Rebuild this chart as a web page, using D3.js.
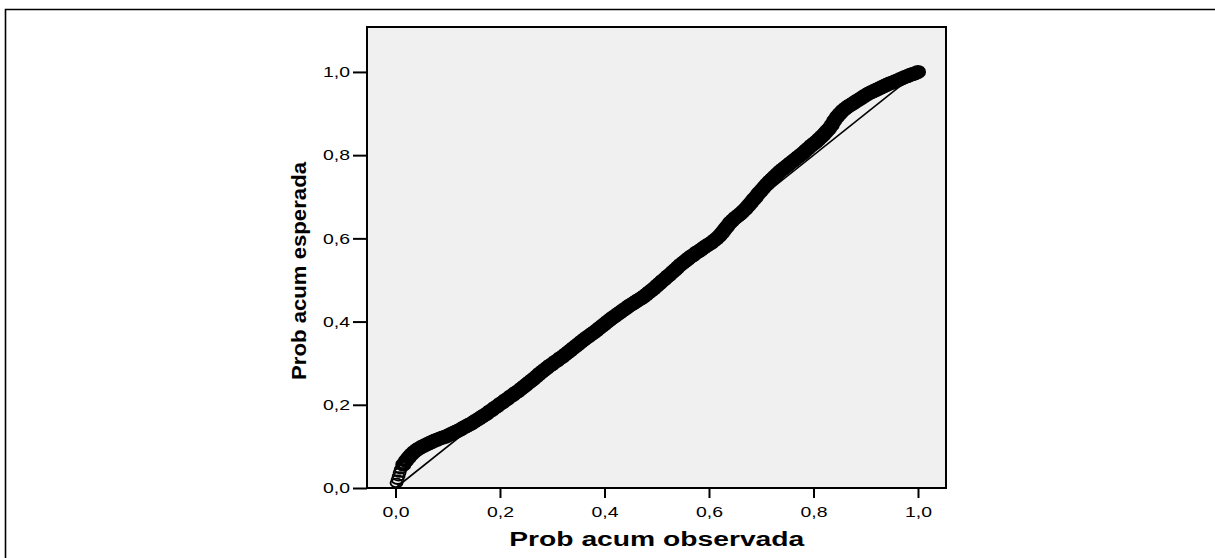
<!DOCTYPE html>
<html>
<head>
<meta charset="utf-8">
<script src="https://cdn.jsdelivr.net/npm/d3@7"></script>
<style>
	body { margin: 0; background: #fff; }
	text { font-family: Arial, "Liberation Sans", sans-serif; }
</style>
</head>
<body>
<div id="chart"></div>
<script>
const observed = [
	0.002, 0.004, 0.006, 0.008, 0.010, 0.015, 0.020, 0.025, 0.030, 0.035, 0.040, 0.045, 0.050, 0.055, 0.060, 0.065, 0.070, 0.075, 0.080, 0.085,
	0.090, 0.095, 0.100, 0.105, 0.110, 0.115, 0.120, 0.125, 0.130, 0.135, 0.140, 0.145, 0.150, 0.155, 0.160, 0.165, 0.170, 0.175, 0.180, 0.185,
	0.190, 0.195, 0.200, 0.205, 0.210, 0.215, 0.220, 0.225, 0.230, 0.235, 0.240, 0.245, 0.250, 0.255, 0.260, 0.265, 0.270, 0.275, 0.280, 0.285,
	0.290, 0.295, 0.300, 0.305, 0.310, 0.315, 0.320, 0.325, 0.330, 0.335, 0.340, 0.345, 0.350, 0.355, 0.360, 0.365, 0.370, 0.375, 0.380, 0.385,
	0.390, 0.395, 0.400, 0.405, 0.410, 0.415, 0.420, 0.425, 0.430, 0.435, 0.440, 0.445, 0.450, 0.455, 0.460, 0.465, 0.470, 0.475, 0.480, 0.485,
	0.490, 0.495, 0.500, 0.505, 0.510, 0.515, 0.520, 0.525, 0.530, 0.535, 0.540, 0.545, 0.550, 0.555, 0.560, 0.565, 0.570, 0.575, 0.580, 0.585,
	0.590, 0.595, 0.600, 0.605, 0.610, 0.615, 0.620, 0.625, 0.630, 0.635, 0.640, 0.645, 0.650, 0.655, 0.660, 0.665, 0.670, 0.675, 0.680, 0.685,
	0.690, 0.695, 0.700, 0.705, 0.710, 0.715, 0.720, 0.725, 0.730, 0.735, 0.740, 0.745, 0.750, 0.755, 0.760, 0.765, 0.770, 0.775, 0.780, 0.785,
	0.790, 0.795, 0.800, 0.805, 0.810, 0.815, 0.820, 0.825, 0.830, 0.835, 0.840, 0.845, 0.850, 0.855, 0.860, 0.865, 0.870, 0.875, 0.880, 0.885,
	0.890, 0.895, 0.900, 0.905, 0.910, 0.915, 0.920, 0.925, 0.930, 0.935, 0.940, 0.945, 0.950, 0.955, 0.960, 0.965, 0.970, 0.975, 0.980, 0.985,
	0.990, 0.995, 1.000
];
const expected = [
	0.012, 0.020, 0.028, 0.037, 0.045, 0.056, 0.065, 0.073, 0.080, 0.086, 0.091, 0.095, 0.099, 0.102, 0.105, 0.108, 0.111, 0.114, 0.116, 0.119,
	0.121, 0.123, 0.126, 0.129, 0.132, 0.135, 0.138, 0.141, 0.145, 0.148, 0.152, 0.155, 0.159, 0.163, 0.167, 0.171, 0.175, 0.179, 0.184, 0.188,
	0.193, 0.197, 0.202, 0.206, 0.211, 0.215, 0.220, 0.224, 0.229, 0.233, 0.238, 0.243, 0.248, 0.253, 0.258, 0.263, 0.268, 0.274, 0.279, 0.284,
	0.289, 0.294, 0.298, 0.303, 0.307, 0.312, 0.316, 0.321, 0.326, 0.331, 0.336, 0.341, 0.346, 0.351, 0.356, 0.361, 0.365, 0.370, 0.374, 0.379,
	0.384, 0.389, 0.394, 0.399, 0.404, 0.409, 0.413, 0.418, 0.422, 0.427, 0.431, 0.436, 0.440, 0.444, 0.448, 0.452, 0.456, 0.460, 0.465, 0.470,
	0.475, 0.480, 0.486, 0.491, 0.497, 0.502, 0.508, 0.513, 0.519, 0.524, 0.530, 0.536, 0.541, 0.546, 0.551, 0.556, 0.560, 0.565, 0.569, 0.573,
	0.578, 0.582, 0.586, 0.590, 0.595, 0.600, 0.606, 0.613, 0.621, 0.629, 0.637, 0.643, 0.649, 0.654, 0.659, 0.665, 0.671, 0.678, 0.685, 0.693,
	0.700, 0.708, 0.715, 0.722, 0.729, 0.736, 0.742, 0.748, 0.754, 0.760, 0.765, 0.770, 0.775, 0.780, 0.785, 0.790, 0.795, 0.800, 0.805, 0.811,
	0.816, 0.822, 0.827, 0.832, 0.838, 0.844, 0.850, 0.857, 0.864, 0.873, 0.883, 0.892, 0.899, 0.906, 0.911, 0.916, 0.920, 0.924, 0.928, 0.932,
	0.936, 0.940, 0.944, 0.948, 0.951, 0.954, 0.957, 0.960, 0.963, 0.966, 0.969, 0.972, 0.974, 0.977, 0.979, 0.982, 0.985, 0.988, 0.990, 0.993,
	0.995, 0.997, 1.000
];
const ticks = [0, 0.2, 0.4, 0.6, 0.8, 1.0];
const xTitle = "Prob acum observada";
const yTitle = "Prob acum esperada";

const width = 1215;
const height = 558;
const frame = ({ left: 367, right: 946, top: 27, bottom: 488 });

const points = observed.map((d, i) => ({ x: d, y: expected[i] }));
const fmt = d => d3.format(".1f")(d).replace(".", ",");

const x = d3.scaleLinear()
	.domain([-0.0545, 1.0536])
	.range([frame.left, frame.right]);

const y = d3.scaleLinear()
	.domain([0, 1.108])
	.range([frame.bottom, frame.top]);

const svg = d3.select("#chart")
	.append("svg")
	.attr("width", width)
	.attr("height", height)
	.attr("viewBox", [0, 0, width, height]);

// outer border (top and left only)
svg.append("path")
	.attr("d", `M5.5,${height} V9.5 H${width}`)
	.attr("fill", "none")
	.attr("stroke", "#000")
	.attr("stroke-width", 1.6);

svg.append("rect")
	.attr("x", frame.left)
	.attr("y", frame.top)
	.attr("width", frame.right - frame.left)
	.attr("height", frame.bottom - frame.top)
	.attr("fill", "#f0f0f0");

const xAxis = g => g
	.attr("transform", `translate(0,${frame.bottom})`)
	.call(d3.axisBottom(x).tickValues(ticks).tickFormat(fmt).tickSize(10).tickPadding(8))
	.call(g => g.select(".domain").remove())
	.call(g => g.selectAll(".tick line").attr("stroke", "#000").attr("stroke-width", 2))
	.call(g => g.selectAll(".tick text")
		.attr("fill", "#000")
		.attr("font-size", 15)
		.attr("textLength", 27)
		.attr("lengthAdjust", "spacingAndGlyphs"));

const yAxis = g => g
	.attr("transform", `translate(${frame.left},0)`)
	.call(d3.axisLeft(y).tickValues(ticks).tickFormat(fmt).tickSize(14).tickPadding(3))
	.call(g => g.select(".domain").remove())
	.call(g => g.selectAll(".tick line").attr("stroke", "#000").attr("stroke-width", 2))
	.call(g => g.selectAll(".tick text")
		.attr("fill", "#000")
		.attr("font-size", 15)
		.attr("textLength", 27)
		.attr("lengthAdjust", "spacingAndGlyphs"));

svg.append("g")
	.call(xAxis);

svg.append("g")
	.call(yAxis);

// reference diagonal
svg.append("line")
	.attr("x1", x(0))
	.attr("y1", y(0))
	.attr("x2", x(1))
	.attr("y2", y(1))
	.attr("stroke", "#000")
	.attr("stroke-width", 1.6);

svg.append("g")
	.attr("fill", "none")
	.attr("stroke", "#000")
	.attr("stroke-width", 4.5)
	.selectAll("ellipse")
	.data(points)
	.join("ellipse")
	.attr("cx", d => x(d.x))
	.attr("cy", d => y(d.y))
	.attr("rx", (d, i) => i < 5 ? 6 : 5.8)
	.attr("ry", (d, i) => i < 5 ? 4.3 : 4.8)
	.attr("stroke-width", (d, i) => i < 5 ? 1.8 : null);

svg.append("rect")
	.attr("x", frame.left)
	.attr("y", frame.top)
	.attr("width", frame.right - frame.left)
	.attr("height", frame.bottom - frame.top)
	.attr("fill", "none")
	.attr("stroke", "#000")
	.attr("stroke-width", 2);

svg.append("text")
	.attr("x", (x(0) + x(1)) / 2)
	.attr("y", 546)
	.attr("text-anchor", "middle")
	.attr("font-size", 20)
	.attr("font-weight", "bold")
	.attr("textLength", 295)
	.attr("lengthAdjust", "spacingAndGlyphs")
	.text(xTitle);

svg.append("text")
	.attr("transform", "translate(306,271) rotate(-90)")
	.attr("text-anchor", "middle")
	.attr("font-size", 20)
	.attr("font-weight", "bold")
	.attr("textLength", 218)
	.attr("lengthAdjust", "spacingAndGlyphs")
	.text(yTitle);
</script>
</body>
</html>
